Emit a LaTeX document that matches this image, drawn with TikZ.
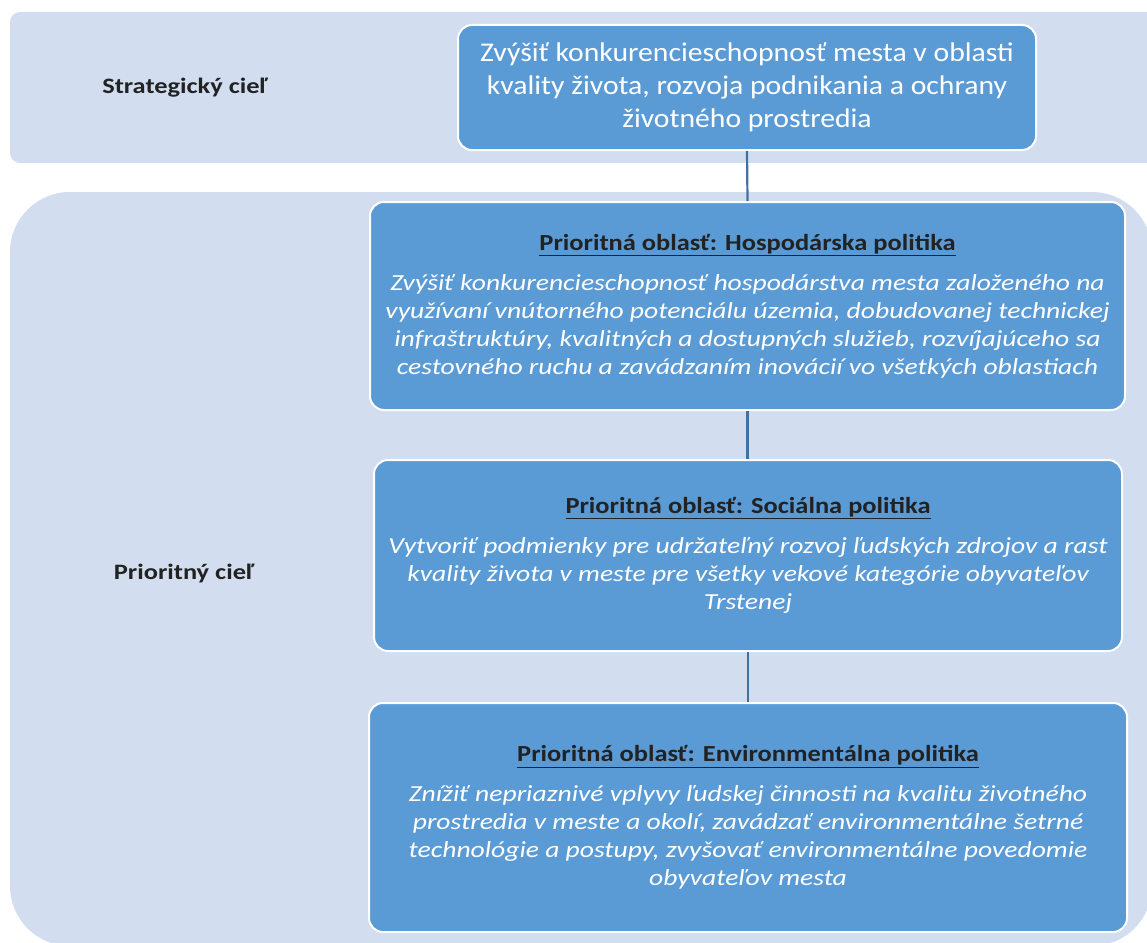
\documentclass[tikz,border=0pt]{standalone}
\usepackage{fontspec}
\setmainfont{Carlito}
\newfontfamily\widefont[FakeStretch=1.2]{Carlito}
\newfontfamily\titlefont[FakeStretch=1.15]{Carlito}
\newfontfamily\topfont[FakeStretch=1.1]{Carlito}
\definecolor{bandfill}{HTML}{D2DEEF}
\definecolor{boxfill}{HTML}{5B9BD5}
\definecolor{linkcol}{HTML}{41719C}
\definecolor{darktext}{HTML}{222222}
\tikzset{
  band/.style={fill=bandfill, draw=none},
  goalbox/.style={rectangle, rounded corners=14pt, fill=boxfill, draw=white, line width=2pt, align=center, inner sep=0pt},
  sidelabel/.style={font=\widefont\fontsize{22}{26}\selectfont\bfseries, text=darktext},
  link/.style={draw=linkcol, line width=2.2pt},
}
\newcommand{\areatitle}[1]{{\titlefont\upshape\bfseries\color{darktext}\underline{#1}}}
\begin{document}
\begin{tikzpicture}[x=1pt,y=-1pt]
\useasboundingbox (0,0) rectangle (1147,942);
\begin{scope}
\clip (0,0) rectangle (1147,942);
\fill[band, rounded corners=10pt] (10,12) rectangle (1170,163);
\fill[band, rounded corners=60pt] (10,192) rectangle (1152,946);
\end{scope}

\node[sidelabel] (lstrat) at (185,88) {Strategický cieľ};
\node[sidelabel] (lprior) at (184,573) {Prioritný cieľ};

\node[goalbox, minimum width=578pt, minimum height=125pt, text=white,
      font=\topfont\fontsize{27}{33}\selectfont] (top) at (747,87.5)
  {\rule{0pt}{10pt}Zvýšiť konkurencieschopnosť mesta v oblasti\\kvality života, rozvoja podnikania a ochrany\\životného prostredia};

\node[goalbox, minimum width=755pt, minimum height=208pt, text=white,
      font=\widefont\fontsize{23}{28}\selectfont\itshape] (hosp) at (747.5,306)
  {\areatitle{Prioritná oblasť: Hospodárska politika}\\[12pt]
   Zvýšiť konkurencieschopnosť hospodárstva mesta založeného na\\
   využívaní vnútorného potenciálu územia, dobudovanej technickej\\
   infraštruktúry, kvalitných a dostupných služieb, rozvíjajúceho sa\\
   cestovného ruchu a zavádzaním inovácií vo všetkých oblastiach};

\node[goalbox, minimum width=748pt, minimum height=191pt, text=white,
      font=\widefont\fontsize{23}{28}\selectfont\itshape] (soc) at (748,555.5)
  {\areatitle{Prioritná oblasť: Sociálna politika}\\[12pt]
   Vytvoriť podmienky pre udržateľný rozvoj ľudských zdrojov a rast\\
   kvality života v meste pre všetky vekové kategórie obyvateľov\\
   Trstenej};

\node[goalbox, minimum width=758pt, minimum height=229pt, text=white,
      font=\widefont\fontsize{23}{28}\selectfont\itshape] (env) at (748,817.5)
  {\areatitle{Prioritná oblasť: Environmentálna politika}\\[12pt]
   Znížiť nepriaznivé vplyvy ľudskej činnosti na kvalitu životného\\
   prostredia v meste a okolí, zavádzať environmentálne šetrné\\
   technológie a postupy, zvyšovať environmentálne povedomie\\
   obyvateľov mesta};

\draw[link] (top.south) -- (hosp.north);
\draw[link] (hosp.south) -- (hosp.south |- soc.north);
\draw[link] (soc.south) -- (soc.south |- env.north);
\end{tikzpicture}
\end{document}
